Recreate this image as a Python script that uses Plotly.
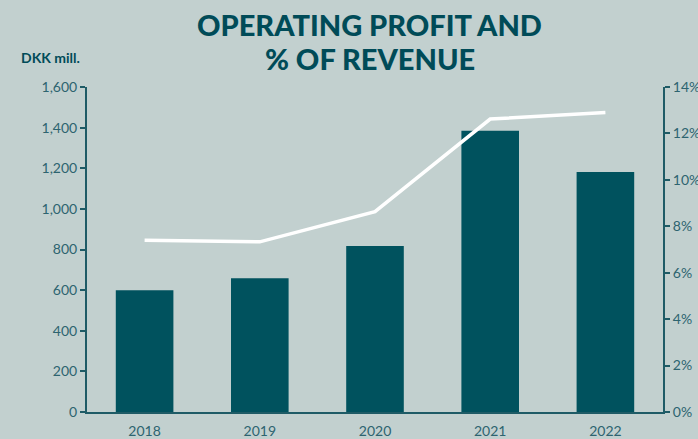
import plotly.graph_objects as go

years = ["2018", "2019", "2020", "2021", "2022"]
operating_profit = [600, 658, 817, 1385, 1182]
pct_of_revenue = [7.4, 7.33, 8.63, 12.62, 12.9]

bg = "#c2d0cf"
teal = "#00525e"
axis_col = "#1e5b66"
text_col = "#2d6470"
title_col = "#004b58"

fig = go.Figure()

fig.add_trace(go.Bar(
    x=years, y=operating_profit,
    marker=dict(color=teal, line=dict(width=0)),
    yaxis="y",
))

fig.add_trace(go.Scatter(
    x=years, y=pct_of_revenue,
    mode="lines",
    line=dict(color="white", width=3.5),
    yaxis="y2",
))

tick_style = dict(ticklen=5, tickcolor=axis_col, tickwidth=2)

fig.update_layout(
    width=698, height=439,
    paper_bgcolor=bg, plot_bgcolor=bg,
    margin=dict(l=87, r=35, t=87, b=27, autoexpand=False),
    showlegend=False,
    bargap=0.5,
    font=dict(family="Lato", color=text_col, size=14),
    xaxis=dict(
        showline=True, linecolor=axis_col, linewidth=2,
        ticks="", showgrid=False, automargin=False,
        ticklabelstandoff=5,
        tickfont=dict(size=14, color=text_col),
    ),
    yaxis=dict(
        range=[0, 1600], dtick=200, tickformat=",d",
        showline=True, linecolor=axis_col, linewidth=2,
        ticks="outside", **tick_style,
        showgrid=False, zeroline=False, automargin=False,
        tickfont=dict(size=14, color=text_col),
    ),
    yaxis2=dict(
        range=[0, 14], dtick=2, ticksuffix="%",
        overlaying="y", side="right",
        showline=True, linecolor=axis_col, linewidth=2,
        ticks="outside", **tick_style,
        showgrid=False, zeroline=False, automargin=False,
        tickfont=dict(size=14, color=text_col),
    ),
    # inside tick copies so the tick marks cross the axis lines
    yaxis3=dict(
        range=[0, 1600], dtick=200, overlaying="y", side="left", anchor="x",
        ticks="inside", ticklen=4, tickcolor=axis_col, tickwidth=2,
        showticklabels=False, showgrid=False, zeroline=False, automargin=False,
    ),
    yaxis4=dict(
        range=[0, 14], dtick=2, overlaying="y", side="right", anchor="x",
        ticks="inside", ticklen=4, tickcolor=axis_col, tickwidth=2,
        showticklabels=False, showgrid=False, zeroline=False, automargin=False,
    ),
)

# two-line title, placed as annotations
for line, ypos in [("OPERATING PROFIT AND", 1.191), ("% OF REVENUE", 1.089)]:
    fig.add_annotation(
        text=line, xref="paper", yref="paper",
        x=0.491, y=ypos, xanchor="center", yanchor="middle",
        showarrow=False,
        font=dict(family="Lato", size=29, weight=900, color=title_col),
    )

fig.add_annotation(
    text="<b>DKK mill.</b>", xref="paper", yref="paper",
    x=-0.118, y=1.092, xanchor="left", yanchor="middle",
    showarrow=False, font=dict(size=14, color=title_col, family="Lato"),
)

# drop the default page margin so the figure sits at the window's corner
fig.write_html("out.html", config={"displayModeBar": False},
               post_script="document.body.style.margin='0';")
